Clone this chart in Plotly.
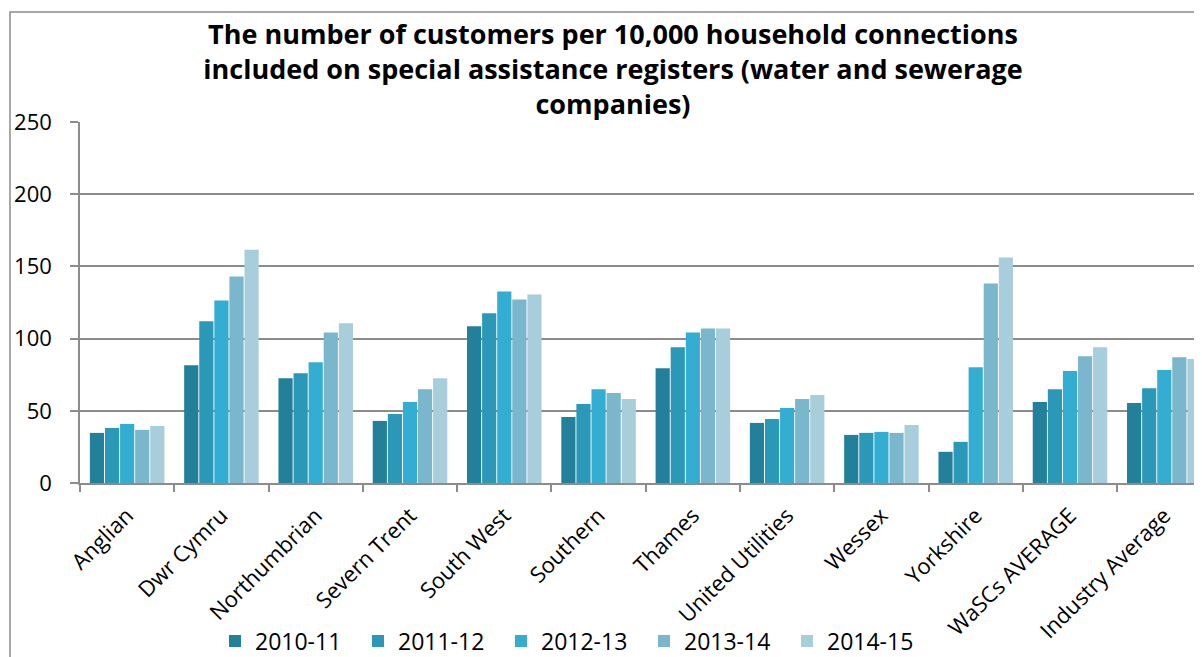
import plotly.graph_objects as go

categories = ["Anglian", "Dwr Cymru", "Northumbrian", "Severn Trent", "South West",
              "Southern", "Thames", "United Utilities", "Wessex", "Yorkshire",
              "WaSCs AVERAGE", "Industry Average"]
series_names = ["2010-11", "2011-12", "2012-13", "2013-14", "2014-15"]
v2010_11 = [34.7, 81.6, 72.6, 43.0, 108.5, 45.7, 79.5, 41.6, 33.3, 21.6, 56.1, 55.4]
v2011_12 = [38.1, 112.0, 76.0, 47.8, 117.5, 54.7, 94.0, 44.3, 34.7, 28.5, 65.0, 65.7]
v2012_13 = [40.9, 126.4, 83.7, 56.1, 132.6, 65.0, 104.3, 51.9, 35.4, 80.2, 77.5, 78.2]
v2013_14 = [36.8, 143.0, 104.3, 65.0, 127.0, 62.3, 107.0, 58.1, 34.7, 138.1, 87.8, 87.1]
v2014_15 = [39.5, 161.6, 110.6, 72.6, 130.6, 58.1, 107.0, 60.9, 40.2, 156.1, 94.0, 85.8]
series_values = [v2010_11, v2011_12, v2012_13, v2013_14, v2014_15]
colors = ["#23809a", "#2b98b8", "#33aed2", "#7ab6cc", "#a9cedb"]

FONT = "'Open Sans', Lato, sans-serif"

fig = go.Figure()
for name, vals, col in zip(series_names, series_values, colors):
    fig.add_trace(go.Bar(
        x=categories, y=vals, name=name,
        marker=dict(color=col, line=dict(width=0)),
    ))

# page body has an 8px margin; figure sized to fill the rest of the window
OFF = 8
W, H = 1202 - OFF, 657 - OFF
L, R, T = 80 - OFF, 0, 122 - OFF
B = H - (483 - OFF)
PW, PH = W - L - R, H - T - B


def py(screen_y):
    return (T + PH - (screen_y - OFF)) / PH


def px(screen_x):
    return (screen_x - OFF - L) / PW


fig.update_layout(
    width=W, height=H,
    paper_bgcolor="white", plot_bgcolor="white",
    margin=dict(l=L, r=R, t=T, b=B, autoexpand=False),
    barmode="group", bargap=0.2, bargroupgap=0.06,
    font=dict(family=FONT, size=22, color="black"),
    title=dict(
        text="<b>The number of customers per 10,000 household connections<br>"
             "included on special assistance registers (water and sewerage<br>"
             "companies)</b>",
        x=605 / W, xanchor="center", xref="container",
        y=1 - 36 / H, yanchor="middle", yref="container",
        font=dict(family=FONT, size=27, color="black"),
    ),
    showlegend=True,
    legend=dict(orientation="h", x=px(215), xanchor="left",
                y=py(641), yanchor="middle",
                font=dict(family=FONT, size=23, color="black"),
                bgcolor="rgba(0,0,0,0)", itemwidth=30, traceorder="normal",
                entrywidth=98, entrywidthmode="pixels"),
    xaxis=dict(
        type="category", range=[-0.5, 11.4], automargin=False,
        tickangle=-45, ticks="outside", tickson="boundaries",
        ticklen=7, tickcolor="#8c8c8c", tickwidth=1.5,
        showline=True, linecolor="#8c8c8c", linewidth=2,
        showgrid=False, ticklabelstandoff=9,
        tickfont=dict(family=FONT, size=22, color="black"),
    ),
    yaxis=dict(
        range=[0, 250], dtick=50, tick0=0, automargin=False,
        ticks="outside", ticklen=8, tickcolor="#8c8c8c", tickwidth=1.5,
        showline=True, linecolor="#8c8c8c", linewidth=1.5,
        showgrid=True, gridcolor="#8c8c8c", gridwidth=1.5,
        zeroline=False, ticklabelstandoff=14,
        tickfont=dict(family=FONT, size=22, color="black"),
    ),
)

fig.add_shape(type="rect", xref="paper", yref="paper",
              x0=px(10), x1=1.05, y0=-0.6, y1=py(12),
              line=dict(color="#8c8c8c", width=1.5), fillcolor="rgba(0,0,0,0)",
              layer="below")

fig.write_html("out.html")
